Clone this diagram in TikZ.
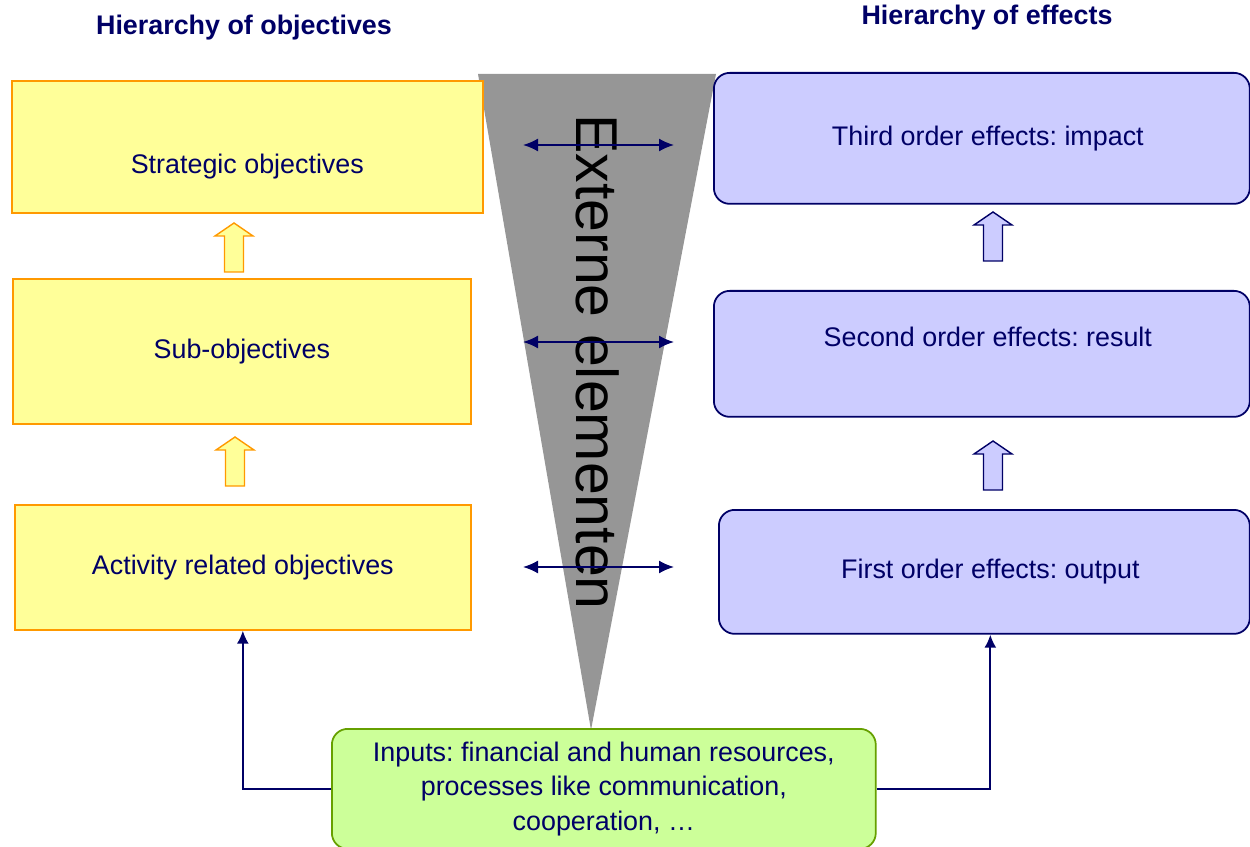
\documentclass[tikz,border=0pt]{standalone}
\usepackage{fontspec}
\setmainfont{Liberation Sans}
\usepackage{tikz}
\usetikzlibrary{arrows.meta}
\definecolor{navy}{RGB}{0,0,102}
\definecolor{ofill}{RGB}{255,255,153}
\definecolor{oline}{RGB}{255,153,0}
\definecolor{efill}{RGB}{204,204,255}
\definecolor{ifill}{RGB}{204,255,153}
\definecolor{iline}{RGB}{102,160,0}
\definecolor{wedge}{RGB}{150,150,150}
\frenchspacing
\newcommand{\blockup}[3]{%
  \draw[#3] (#1,#2) -- ++(19,13) -- ++(-9.5,0) -- ++(0,36) -- ++(-19,0)
    -- ++(0,-36) -- ++(-9.5,0) -- cycle;}

\begin{document}
\begin{tikzpicture}[
    x=0.02cm, y=-0.02cm,
    font=\fontsize{15.3}{19.5}\selectfont,
    txt/.style={text=navy,align=center},
    objbox/.style={txt,draw=oline,fill=ofill,line width=1pt,anchor=north west},
    effbox/.style={txt,draw=navy,fill=efill,line width=1pt,rounded corners=9pt,anchor=north west,
      execute at begin node={\hspace*{0.24cm}}},
    inbox/.style={txt,draw=iline,fill=ifill,line width=1pt,rounded corners=9pt,anchor=north west},
    title/.style={text=navy,font=\fontsize{15.3}{18}\bfseries},
    trans/.style={line width=1pt,navy,<->,>={Latex[length=3mm,width=2.6mm]}},
    conn/.style={line width=1pt,navy,->,>={Latex[length=2.6mm,width=2.4mm]}}
    ]
    \useasboundingbox (0,0) rectangle (1250,847);
    % wedge of external elements
    \fill[wedge] (478,74) -- (716,74) -- (591,730) -- cycle;
    \node[rotate=-90,anchor=base west,inner sep=0pt,font=\fontsize{33.6}{33}\selectfont]
      (ext) at (576,114) {Externe elementen};
    % titles
    \node[title] (tobj) at (244,28) {Hierarchy of objectives};
    \node[title] (teff) at (987,18) {Hierarchy of effects};
    % hierarchy of objectives
    \node[objbox,minimum width=9.42cm,minimum height=2.64cm,text height=1.18cm] (strat) at (11,80) {Strategic objectives};
    \node[objbox,minimum width=9.16cm,minimum height=2.9cm] (sub) at (12,278) {Sub-objectives};
    \node[objbox,minimum width=9.12cm,minimum height=2.5cm] (act) at (14,504) {Activity related objectives};
    % hierarchy of effects
    \node[effbox,minimum width=10.72cm,minimum height=2.62cm] (third) at (713,72) {Third order effects: impact};
    \node[effbox,minimum width=10.72cm,minimum height=2.52cm,text depth=0.68cm] (second) at (713,290) {Second order effects: result};
    \node[effbox,minimum width=10.62cm,minimum height=2.48cm] (first) at (718,509) {First order effects: output};
    % inputs
    \node[inbox,minimum width=10.88cm,minimum height=2.4cm] (inputs) at (331,728)
      {Inputs: financial and human resources,\\processes like communication,\\cooperation, \dots};
    % block arrows
    \blockup{234}{223}{draw=oline,fill=ofill,line width=0.8pt}
    \blockup{235}{437}{draw=oline,fill=ofill,line width=0.8pt}
    \blockup{993}{212}{draw=navy,fill=efill,line width=0.8pt}
    \blockup{993}{441}{draw=navy,fill=efill,line width=0.8pt}
    % influence of external elements
    \foreach \n/\y in {a/145,b/342,c/567} {
      \coordinate (l\n) at (523,\y);
      \coordinate (r\n) at (674,\y);
      \draw[trans] (l\n) -- (r\n);
    }
    % inputs feed both hierarchies
    \draw[conn] (inputs.west) -| (act.south);
    \draw[conn] (inputs.east) -| ([xshift=0.12cm]first.south);
  \end{tikzpicture}
\end{document}
